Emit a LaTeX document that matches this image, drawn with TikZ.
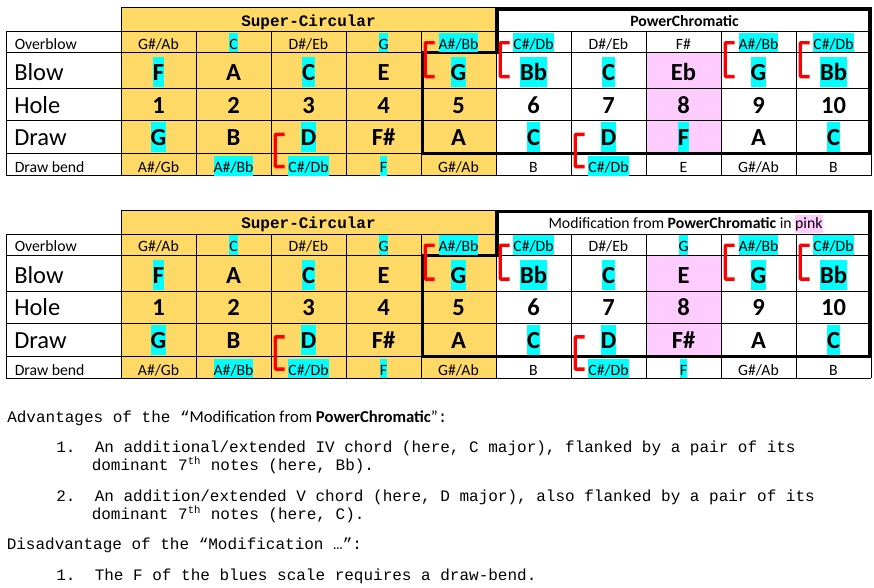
\documentclass[tikz,border=0pt]{standalone}
\usepackage{fontspec}
\newfontfamily\calibri{Carlito}
\newfontfamily\courier{Liberation Mono}
\setlength{\fboxsep}{0pt}
\definecolor{harpyellow}{RGB}{255,217,102}
\definecolor{harppink}{RGB}{255,204,255}
\definecolor{hlcyan}{RGB}{0,255,255}
\definecolor{bendred}{RGB}{255,0,0}
\tikzset{
  % cell texts, placed on their baseline
  small note/.style={font=\calibri\fontsize{11.8}{14}\selectfont,anchor=base,inner sep=0pt,text height=12.3pt,text depth=2.4pt},
  big note/.style={font=\calibri\bfseries\fontsize{18.4}{22}\selectfont,anchor=base,inner sep=0pt,text height=17.6pt,text depth=5pt},
  hl/.style={fill=hlcyan},
  nohl/.style={},
  small label/.style={font=\calibri\fontsize{11.8}{14}\selectfont,anchor=base west,inner sep=0pt},
  big label/.style={font=\calibri\fontsize{18.4}{22}\selectfont,anchor=base west,inner sep=0pt},
  head mono/.style={font=\courier\bfseries\fontsize{12}{14}\selectfont,anchor=base,inner sep=0pt},
  head note/.style={font=\calibri\fontsize{11.8}{14}\selectfont,anchor=base,inner sep=0pt},
  % lines
  grid line/.style={line width=0.75pt},
  frame line/.style={line width=2.5pt,line join=miter},
  bend mark/.style={draw=bendred,line width=2.5pt,rounded corners=0.6pt},
  % text under the tables
  body text/.style={font=\courier\fontsize{12}{14}\selectfont,anchor=base west,inner sep=0pt},
}
% one harp table, without the pink column 8
\newcommand{\harptable}{%
  \fill[harpyellow] (121,7.5) rectangle (496,176);
  \fill[harppink] (646,52.5) rectangle (721,153.5);
  \foreach \y in {31.7,52.5,88.5,120.7,153.5,175.7}
    \draw[grid line] (6,\y) -- (871,\y);
  \draw[grid line] (121,7.5) -- (871,7.5);
  \draw[grid line] (6,31.7) -- (6,175.7);
  \draw[grid line] (121,7.5) -- (121,175.7);
  \draw[grid line] (871,7.5) -- (871,175.7);
  \foreach \k in {1,...,9}
    \draw[grid line] ({121+75*\k},31.7) -- ({121+75*\k},175.7);
  \draw[frame line] (422.3,52.7) -- (497,52.7) -- (497,9) -- (870,9) -- (870,153.7) -- (422.3,153.7) -- cycle;
  % row labels
  \node[small label] (ob) at (14.5,49) {Overblow};
  \node[big label] (bl) at (14,80.7) {Blow};
  \node[big label] (ho) at (14,113.3) {Hole};
  \node[big label] (dr) at (14,145.7) {Draw};
  \node[small label] (db) at (14.5,172.7) {Draw bend};
  \node[head mono] (sc) at (308.5,26) {Super-Circular};
  % notes
  \foreach \col/\nt/\hs in {1/{G\#/Ab}/nohl,2/C/hl,3/{D\#/Eb}/nohl,4/G/hl,5/{A\#/Bb}/hl,6/{C\#/Db}/hl,7/{D\#/Eb}/nohl,9/{A\#/Bb}/hl,10/{C\#/Db}/hl}
    \node[small note,\hs] (ob\col) at ({83.5+75*\col},49) {\nt};
  \foreach \col/\nt/\hs in {1/F/hl,2/A/nohl,3/C/hl,4/E/nohl,5/G/hl,6/Bb/hl,7/C/hl,9/G/hl,10/Bb/hl}
    \node[big note,\hs] (bl\col) at ({83.5+75*\col},80.7) {\nt};
  \foreach \col in {1,...,10}
    \node[big note] (ho\col) at ({83.5+75*\col},113.3) {\col};
  \foreach \col/\nt/\hs in {1/G/hl,2/B/nohl,3/D/hl,4/F\#/nohl,5/A/nohl,6/C/hl,7/D/hl,9/A/nohl,10/C/hl}
    \node[big note,\hs] (dr\col) at ({83.5+75*\col},145.7) {\nt};
  \foreach \col/\nt/\hs in {1/{A\#/Gb}/nohl,2/{A\#/Bb}/hl,3/{C\#/Db}/hl,4/F/hl,5/{G\#/Ab}/nohl,6/B/nohl,7/{C\#/Db}/hl,9/{G\#/Ab}/nohl,10/B/nohl}
    \node[small note,\hs] (db\col) at ({83.5+75*\col},172.7) {\nt};
  % red brackets
  \foreach \k in {5,6,9,10}
    \draw[bend mark] ({121+75*(\k-1)+13.5},42.7) -| ({121+75*(\k-1)+4.2},76.6) -- ++(9.3,0);
  \foreach \k in {3,7}
    \draw[bend mark] ({121+75*(\k-1)+13.5},134.4) -| ({121+75*(\k-1)+4.2},166.6) -- ++(9.3,0);
}

\begin{document}
\begin{tikzpicture}[x=0.75pt,y=-0.75pt]
  \useasboundingbox (0,0) rectangle (874,587);
  \begin{scope}[name prefix=a-]
    \harptable
    \node[head note] (pc) at (684.5,26) {\bfseries PowerChromatic};
    \node[small note,nohl] (ob8) at (683.5,49) {F\#};
    \node[big note,nohl] (bl8) at (683.5,80.7) {Eb};
    \node[big note,hl] (dr8) at (683.5,145.7) {F};
    \node[small note,nohl] (db8) at (683.5,172.7) {E};
  \end{scope}
  \begin{scope}[shift={(0,202.5)},name prefix=b-]
    \harptable
    \node[head note] (pc) at (685.5,26) {Modification from \textbf{PowerChromatic} in \colorbox{harppink}{\rule[-3.2pt]{0pt}{13.7pt}pink}};
    \node[small note,hl] (ob8) at (683.5,49) {G};
    \node[big note,nohl] (bl8) at (683.5,80.7) {E};
    \node[big note,nohl] (dr8) at (683.5,145.7) {F\#};
    \node[small note,hl] (db8) at (683.5,172.7) {F};
  \end{scope}
  % advantages and disadvantage
  \node[body text] (adv) at (7,422.5) {Advantages of the “{\calibri\fontsize{12.5}{14}\selectfont Modification from \textbf{PowerChromatic}”}:};
  \node[body text] (n1) at (56,452.5) {1.};
  \node[body text] (a1) at (94.5,452.5) {An additional/extended IV chord (here, C major), flanked by a pair of its};
  \node[body text] (a1b) at (91.5,470.5) {dominant 7\textsuperscript{th} notes (here, Bb).};
  \node[body text] (n2) at (56,501) {2.};
  \node[body text] (a2) at (94.5,501) {An addition/extended V chord (here, D major), also flanked by a pair of its};
  \node[body text] (a2b) at (91.5,519) {dominant 7\textsuperscript{th} notes (here, C).};
  \node[body text] (dis) at (6.5,549.5) {Disadvantage of the “Modification …”:};
  \node[body text] (n3) at (56,580) {1.};
  \node[body text] (d1) at (94.5,580) {The F of the blues scale requires a draw-bend.};
\end{tikzpicture}
\end{document}
